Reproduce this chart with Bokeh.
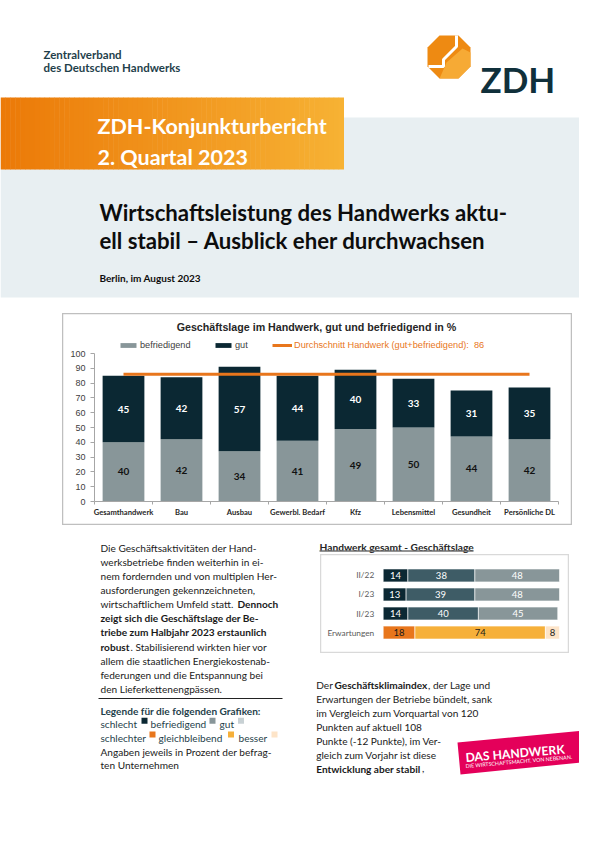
from bokeh.plotting import figure
from bokeh.models import (Range1d, FactorRange, LinearAxis, CategoricalAxis, FixedTicker,
                          Spacer, Label, Legend, LegendItem, ColumnDataSource)
from bokeh.layouts import column, row
from bokeh.embed import file_html
from bokeh.resources import INLINE
from bokeh.core.properties import value

# ---------------- data ----------------
branchen = ["Gesamthandwerk", "Bau", "Ausbau", "Gewerbl. Bedarf", "Kfz",
            "Lebensmittel", "Gesundheit", "Persönliche DL"]
befriedigend = [40, 42, 34, 41, 49, 50, 44, 42]
gut = [45, 42, 57, 44, 40, 33, 31, 35]
durchschnitt_handwerk = 86
y_ticks = [0, 10, 20, 30, 40, 50, 60, 70, 80, 90, 100]

zeitraum = ["II/22", "I/23", "II/23"]
lage_schlecht = [14, 13, 14]
lage_befriedigend = [38, 39, 40]
lage_gut = [48, 48, 45]
erwartung_kat = ["Erwartungen"]
erw_schlechter = [18]
erw_gleichbleibend = [74]
erw_besser = [8]

# ---------------- styles ----------------
SANS = "Lato"
ARIAL = "Liberation Sans"
C_DARK = "#0b2833"
C_MID = "#3e5c66"
C_GRAY = "#889699"
C_LIGHT = "#c8d1d4"
C_ORANGE = "#e8761c"
C_LORANGE = "#f6b03a"
C_PALE = "#fde4c8"
C_TEAL = "#1f3f4b"
C_TEXT = "#1a1a1a"


def bare(w, h, xr, yr):
    f = figure(width=w, height=h, x_range=xr, y_range=yr, x_axis_type=None, y_axis_type=None,
               toolbar_location=None, output_backend="svg", min_border=0,
               background_fill_color="white", border_fill_color="white", outline_line_color=None)
    f.title.visible = False
    return f


def page_fig(x0, x1, y0, y1):
    # decoration canvas in page pixel coordinates (y grows downward)
    return bare(x1 - x0, y1 - y0, Range1d(x0, x1), Range1d(y1, y0))


def txt(f, x, y, s, size, color=C_TEXT, bold=False, font=SANS, align="left", angle=0.0):
    f.text(x=[x], y=[y], text=[s], text_font=value(font), text_font_size=size,
           text_font_style="bold" if bold else "normal", text_color=color,
           text_align=align, text_baseline="alphabetic", angle=angle)


PAGE_W, PAGE_H = 579, 825

# ================= header =================
top = page_fig(0, PAGE_W, 0, 313)
top.quad(left=0, right=PAGE_W, top=117, bottom=297, color="#e8eff2", line_color=None)
N = 70
c0 = (236, 122, 8)
c1 = (247, 178, 52)
gw = 343 / N
gl, gr, cols = [], [], []
for i in range(N):
    t = i / (N - 1)
    cols.append("#%02x%02x%02x" % tuple(int(a + (b - a) * t) for a, b in zip(c0, c1)))
    gl.append(i * gw)
    gr.append((i + 1) * gw + 0.5)
top.quad(left=gl, right=gr, top=97, bottom=169, color=cols, line_color=None)

txt(top, 43, 53.5, "Zentralverband", "11.5px", C_TEAL, True)
txt(top, 43, 66.5, "des Deutschen Handwerks", "11.5px", C_TEAL, True)
# ZDH logo
oct_x = [439, 458, 470, 470, 458, 439, 427, 427]
oct_y = [35, 35, 47, 66, 78, 78, 66, 47]
top.patch(oct_x, oct_y, color="#ee8a12", line_color=None)
top.patch([470, 470, 458, 439, 446, 462], [52, 66, 78, 78, 62, 48], color="#f6ad3a",
          line_color=None, alpha=0.9)
top.line([456, 456, 443, 443, 428], [35, 46, 59, 66, 66], line_color="white", line_width=3)
txt(top, 480, 78, "ZDH", "35px", "#10303b", True)

txt(top, 97, 125, "ZDH-Konjunkturbericht", "21.5px", "white", True)
txt(top, 97, 156, "2. Quartal 2023", "21.5px", "white", True)
txt(top, 99, 211.5, "Wirtschaftsleistung des Handwerks aktu-", "22.2px", "#0d0d0d", True)
txt(top, 99, 240, "ell stabil – Ausblick eher durchwachsen", "22.2px", "#0d0d0d", True)
txt(top, 99, 277, "Berlin, im August 2023", "10px", "#0d0d0d", True)

# ================= main chart =================
MW, MH = 510, 212
PL, PR, PB, PT = 32, 496, 24, 172      # plot area inside the framed box (px)
n = len(branchen)
xppu = (PR - PL) / n
yppu = (PT - PB) / y_ticks[-1]
main = bare(MW, MH,
            Range1d(-PL / xppu, n + (MW - PR) / xppu),
            Range1d(-PB / yppu, y_ticks[-1] + (MH - PT) / yppu))
main.outline_line_color = "#bfbfbf"
main.outline_line_width = 1.5

xc = [i + 0.5 for i in range(n)]
src = ColumnDataSource(dict(
    x=xc, befriedigend=befriedigend, gut=gut,
    yb=[b / 2 for b in befriedigend],
    yg=[b + g / 2 for b, g in zip(befriedigend, gut)],
    tb=[str(b) for b in befriedigend], tg=[str(g) for g in gut]))
rs = main.vbar_stack(["befriedigend", "gut"], x="x", width=0.72, color=[C_GRAY, C_DARK],
                     line_color=None, source=src)
main.text(x="x", y="yb", text="tb", source=src, text_font=value(SANS), text_font_style="bold",
          text_font_size="10px", text_color="#111111", text_align="center", text_baseline="middle")
main.text(x="x", y="yg", text="tg", source=src, text_font=value(SANS), text_font_style="bold",
          text_font_size="10px", text_color="white", text_align="center", text_baseline="middle")
avg = main.line(x=[xc[0], xc[-1]], y=[durchschnitt_handwerk] * 2, line_width=3, line_color=C_ORANGE)

yax = LinearAxis(fixed_location=0, bounds=(0, y_ticks[-1]), ticker=FixedTicker(ticks=y_ticks),
                 axis_line_color="#a6a6a6", major_tick_line_color="#a6a6a6", major_tick_in=0,
                 major_tick_out=4, minor_tick_line_color=None, major_label_standoff=5,
                 major_label_text_font=ARIAL, major_label_text_font_size="9px",
                 major_label_text_color="#404040")
main.add_layout(yax, "left")
xax = LinearAxis(fixed_location=0, bounds=(0, n), ticker=FixedTicker(ticks=list(range(n + 1))),
                 major_label_overrides={i: "" for i in range(n + 1)},
                 axis_line_color="#a6a6a6", major_tick_line_color="#a6a6a6", major_tick_in=0,
                 major_tick_out=3, minor_tick_line_color=None)
main.add_layout(xax, "below")
xlab = LinearAxis(fixed_location=0, ticker=FixedTicker(ticks=xc),
                  major_label_overrides={x: b for x, b in zip(xc, branchen)},
                  axis_line_color=None, major_tick_line_color=None, minor_tick_line_color=None,
                  major_tick_in=0, major_tick_out=0,
                  major_label_standoff=5, major_label_text_font=SANS,
                  major_label_text_font_style="bold", major_label_text_font_size="7.6px",
                  major_label_text_color="#262626")
main.add_layout(xlab, "below")

leg_kw = dict(orientation="horizontal", padding=0, margin=0, spacing=0, glyph_width=20,
              glyph_height=6, label_height=8, label_standoff=2, label_text_font=ARIAL,
              label_text_font_size="9.2px", border_line_color=None, background_fill_alpha=0)
main.add_layout(Legend(items=[LegendItem(label="befriedigend", renderers=[rs[0]])],
                       location=(56, 175), label_text_color="#404040", **leg_kw))
main.add_layout(Legend(items=[LegendItem(label="gut", renderers=[rs[1]])],
                       location=(151, 175), label_text_color="#404040", **leg_kw))
main.add_layout(Legend(items=[LegendItem(
    label=f"Durchschnitt Handwerk (gut+befriedigend):  {durchschnitt_handwerk}", renderers=[avg])],
    location=(210, 175), label_text_color=C_ORANGE, **leg_kw))
main.add_layout(Label(x=254, y=199, x_units="screen", y_units="screen",
                      text="Geschäftslage im Handwerk, gut und befriedigend in %",
                      text_align="center", text_baseline="middle", text_font=ARIAL,
                      text_font_style="bold", text_font_size="10.7px", text_color="#262626"))

# ================= lower left text =================
LOW_TOP = 313 + MH
low = page_fig(0, 310, LOW_TOP, PAGE_H)
FS = "10.1px"
L0, LS = 547.3, 14.1
left_lines = [
    [("Die Geschäftsaktivitäten der Hand-", False, 100)],
    [("werksbetriebe finden weiterhin in ei-", False, 100)],
    [("nem fordernden und von multiplen Her-", False, 100)],
    [("ausforderungen gekennzeichneten,", False, 100)],
    [("wirtschaftlichem Umfeld statt.", False, 100), ("Dennoch", True, 237)],
    [("zeigt sich die Geschäftslage der Be-", True, 100)],
    [("triebe zum Halbjahr 2023 erstaunlich", True, 100)],
    [("robust", True, 100), (". Stabilisierend wirkten hier vor", False, 130)],
    [("allem die staatlichen Energiekostenab-", False, 100)],
    [("federungen und die Entspannung bei", False, 100)],
    [("den Lieferkettenengpässen.", False, 100)],
]
for i, parts in enumerate(left_lines):
    for s, b, x in parts:
        txt(low, x, L0 + LS * i, s, FS, C_TEXT, b)
low.line([98, 282], [698, 698], line_color="#222222", line_width=1)
txt(low, 100, 710, "Legende für die folgenden Grafiken:", FS, C_TEAL, True)
for s, x in [("schlecht", 100), ("befriedigend", 150), ("gut", 219)]:
    txt(low, x, 723.7, s, FS, C_TEAL)
low.quad(left=[141, 209, 237.5], right=[147, 215, 243.5], top=[717.3] * 3, bottom=[723.3] * 3,
         color=[C_DARK, C_GRAY, C_LIGHT], line_color=None)
for s, x in [("schlechter", 100), ("gleichbleibend", 158), ("besser", 238)]:
    txt(low, x, 737.3, s, FS, C_TEAL)
low.quad(left=[149, 227.5, 271], right=[155, 233.5, 277], top=[731] * 3, bottom=[737] * 3,
         color=[C_ORANGE, C_LORANGE, C_PALE], line_color=None)
txt(low, 100, 751, "Angaben jeweils in Prozent der befrag-", FS, C_TEXT)
txt(low, 100, 764.6, "ten Unternehmen", FS, C_TEXT)

# ================= small chart =================
RX0 = 310
rt_head = page_fig(RX0, PAGE_W, LOW_TOP, 554)
txt(rt_head, 319, 546.5, "Handwerk gesamt - Geschäftslage", "10.2px", "#262626", True)
rt_head.line([319, 473], [550.5, 550.5], line_color="#6f6f6f", line_width=1.6)

SX0, SW, SH = 320, 249, 99
BL, BR = 62.7, 239
sppu = (BR - BL) / 100
small = bare(SW, SH, Range1d(-BL / sppu, 100 + (SW - BR) / sppu),
             FactorRange(factors=list(reversed(zeitraum + erwartung_kat)),
                         range_padding=0.6, range_padding_units="absolute"))
small.outline_line_color = "#d9d9d9"
small.outline_line_width = 1.5
ssrc = ColumnDataSource(dict(z=zeitraum, schlecht=lage_schlecht, befriedigend=lage_befriedigend,
                             gut=lage_gut))
small.hbar_stack(["schlecht", "befriedigend", "gut"], y="z", height=0.68,
                 color=[C_DARK, C_MID, C_GRAY], line_color="white", line_width=0.6, source=ssrc)
esrc = ColumnDataSource(dict(z=erwartung_kat, schlechter=erw_schlechter,
                             gleichbleibend=erw_gleichbleibend, besser=erw_besser))
small.hbar_stack(["schlechter", "gleichbleibend", "besser"], y="z", height=0.68,
                 color=[C_ORANGE, C_LORANGE, C_PALE], line_color="white", line_width=0.6, source=esrc)


def seg_labels(cats, series, color):
    xs, ys, ts = [], [], []
    for j, c in enumerate(cats):
        acc = 0
        for s in series:
            xs.append(acc + s[j] / 2)
            ys.append(c)
            ts.append(str(s[j]))
            acc += s[j]
    small.text(x=xs, y=ys, text=ts, text_font=value(SANS), text_font_size="9.5px",
               text_color=color, text_align="center", text_baseline="middle")


seg_labels(zeitraum, [lage_schlecht, lage_befriedigend, lage_gut], "white")
seg_labels(erwartung_kat, [erw_schlechter, erw_gleichbleibend, erw_besser], "#1a1a1a")
sax = CategoricalAxis(fixed_location=0, axis_line_color=None, major_tick_line_color=None,
                      minor_tick_line_color=None, major_tick_in=0, major_tick_out=0,
                      major_label_standoff=9,
                      major_label_text_font=SANS, major_label_text_font_size="8.3px",
                      major_label_text_color="#595959")
small.add_layout(sax, "left")

# ================= lower right text =================
RT_TOP = 554 + SH
rt = page_fig(RX0, PAGE_W, RT_TOP, PAGE_H)
R0, RS = 684, 14
right_lines = [
    [("Der", False, 315.7), ("Geschäftsklimaindex", True, 334), (", der Lage und", False, 427.5)],
    [("Erwartungen der Betriebe bündelt, sank", False, 315.7)],
    [("im Vergleich zum Vorquartal von 120", False, 315.7)],
    [("Punkten auf aktuell 108", False, 315.7)],
    [("Punkte (-12 Punkte), im Ver-", False, 315.7)],
    [("gleich zum Vorjahr ist diese", False, 315.7)],
    [("Entwicklung aber stabil", True, 315.7), (",", False, 421.5)],
]
for i, parts in enumerate(right_lines):
    for s, b, x in parts:
        txt(rt, x, R0 + RS * i, s, FS, C_TEXT, b)
# "DAS HANDWERK" badge
rt.patch([457, 600, 600, 460], [742, 728.5, 760, 774], color="#e4005a", line_color=None)
txt(rt, 465, 757, "DAS HANDWERK", "12.2px", "white", True, angle=0.085)
txt(rt, 465, 765.5, "DIE WIRTSCHAFTSMACHT. VON NEBENAN.", "5.3px", "white", False, angle=0.085)

layout = column(
    top,
    row(Spacer(width=62, height=MH), main, Spacer(width=PAGE_W - 62 - MW, height=MH)),
    row(low, column(rt_head,
                    row(Spacer(width=SX0 - RX0, height=SH), small,
                        Spacer(width=PAGE_W - SX0 - SW, height=SH)),
                    rt)),
)

open("out.html", "w").write(file_html(layout, INLINE, "ZDH-Konjunkturbericht"))
